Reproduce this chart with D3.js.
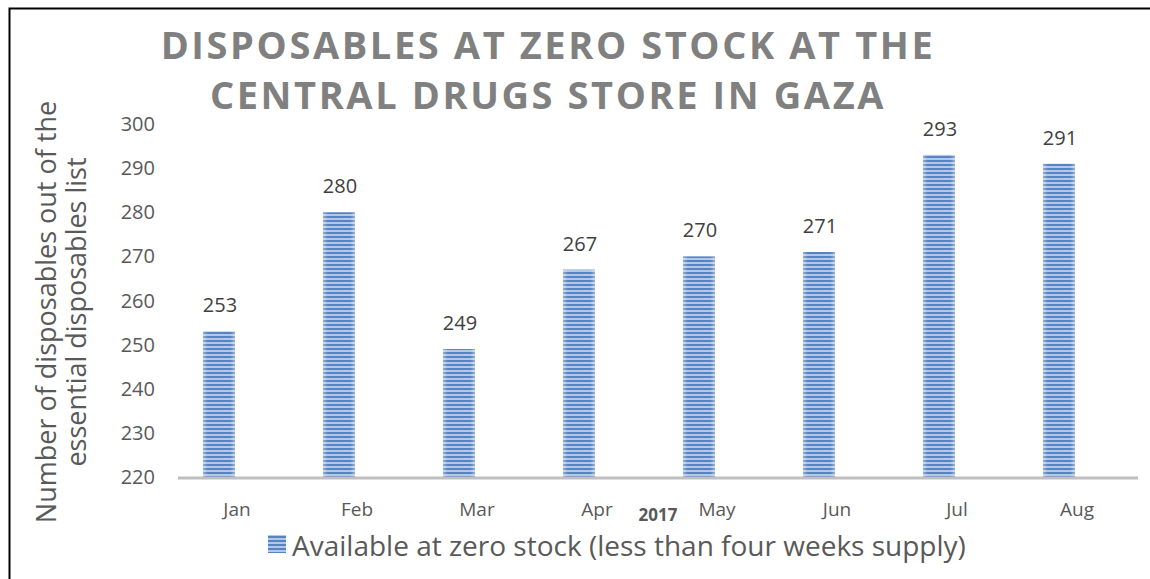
<!DOCTYPE html>
<html>
<head>
<meta charset="utf-8">
<script src="https://cdn.jsdelivr.net/npm/d3@7"></script>
<style>
  body { margin: 0; background: #fff; }
  svg text { font-family: "Open Sans", sans-serif; }
</style>
</head>
<body>
<div id="chart"></div>
<script>
// data
var months = ["Jan", "Feb", "Mar", "Apr", "May", "Jun", "Jul", "Aug"]
var values = [253, 280, 249, 267, 270, 271, 293, 291]
var yTicks = [220, 230, 240, 250, 260, 270, 280, 290, 300]
var titleLines = ["DISPOSABLES AT ZERO STOCK AT THE", "CENTRAL DRUGS STORE IN GAZA"]
var yTitleLines = ["Number of disposables out of the", "essential disposables list"]
var seriesName = "Available at zero stock (less than four weeks supply)"

var w = 1150
var h = 579

var svg = d3.select("#chart")
    .append("svg")
    .attr("width", w)
    .attr("height", h)

// stripes for the bars
var defs = svg.append("defs")
var pat = defs.append("pattern")
    .attr("id", "stripes")
    .attr("patternUnits", "userSpaceOnUse")
    .attr("width", 8)
    .attr("height", 4)
pat.append("rect").attr("width", 8).attr("height", 4).attr("fill", "#b3c8e6")
pat.append("rect").attr("width", 8).attr("height", 2).attr("fill", "#5683c3")

var edge = defs.append("linearGradient").attr("id", "edge")
edge.append("stop").attr("offset", "0%").attr("stop-color", "#fff").attr("stop-opacity", 0.35)
edge.append("stop").attr("offset", "15%").attr("stop-color", "#fff").attr("stop-opacity", 0)
edge.append("stop").attr("offset", "85%").attr("stop-color", "#fff").attr("stop-opacity", 0)
edge.append("stop").attr("offset", "100%").attr("stop-color", "#fff").attr("stop-opacity", 0.35)

// frame
svg.append("path")
    .attr("d", "M9.5," + h + "V8.5H" + w)
    .attr("fill", "none")
    .attr("stroke", "#000")
    .attr("stroke-width", 2)

var x = d3.scaleBand()
    .domain(months)
    .range([178, 1138])

var y = d3.scaleLinear()
    .domain([220, 300])
    .range([477, 124])

// y tick labels
svg.selectAll(".ytick")
    .data(yTicks)
    .enter().append("text")
    .attr("x", 155)
    .attr("y", d => y(d))
    .attr("dy", "0.35em")
    .attr("text-anchor", "end")
    .attr("font-size", 20)
    .attr("fill", "#595959")
    .text(d => d)

// bars
var barW = 32
var barX = d => x(d) + 25

svg.selectAll(".bar")
    .data(values)
    .enter().append("rect")
    .attr("x", (d, i) => barX(months[i]))
    .attr("y", d => y(d))
    .attr("width", barW)
    .attr("height", d => y(220) - y(d))
    .attr("fill", "url(#stripes)")

svg.selectAll(".bar-edge")
    .data(values)
    .enter().append("rect")
    .attr("x", (d, i) => barX(months[i]))
    .attr("y", d => y(d))
    .attr("width", barW)
    .attr("height", d => y(220) - y(d))
    .attr("fill", "url(#edge)")

// value labels
svg.selectAll(".val")
    .data(values)
    .enter().append("text")
    .attr("x", (d, i) => barX(months[i]) + barW / 2 + 1)
    .attr("y", d => y(d) - 19)
    .attr("text-anchor", "middle")
    .attr("font-size", 20)
    .attr("fill", "#404040")
    .text(d => d)

// x axis line
svg.append("line")
    .attr("x1", 178)
    .attr("x2", 1138)
    .attr("y1", y(220) + 1)
    .attr("y2", y(220) + 1)
    .attr("stroke", "#bfbfbf")
    .attr("stroke-width", 3)

// x labels
svg.selectAll(".xlab")
    .data(months)
    .enter().append("text")
    .attr("x", d => x(d) + x.bandwidth() / 2 - 1)
    .attr("y", 516)
    .attr("text-anchor", "middle")
    .attr("font-size", 19)
    .attr("fill", "#595959")
    .text(d => d)

svg.append("text")
    .attr("x", 658)
    .attr("y", 521)
    .attr("text-anchor", "middle")
    .attr("font-size", 17)
    .attr("font-weight", "bold")
    .attr("fill", "#595959")
    .text("2017")

// title
svg.selectAll(".title")
    .data(titleLines)
    .enter().append("text")
    .attr("x", 548)
    .attr("y", (d, i) => 59 + i * 50)
    .attr("text-anchor", "middle")
    .attr("font-size", 38)
    .attr("font-weight", "bold")
    .attr("letter-spacing", 2.6)
    .attr("fill", "#808080")
    .text(d => d)

// y axis title
svg.selectAll(".ytitle")
    .data(yTitleLines)
    .enter().append("text")
    .attr("transform", (d, i) => "translate(" + (56 + i * 30) + ",312) rotate(-90)")
    .attr("text-anchor", "middle")
    .attr("font-size", 27)
    .attr("fill", "#595959")
    .text(d => d)

// legend
svg.append("rect")
    .attr("x", 268)
    .attr("y", 535)
    .attr("width", 18)
    .attr("height", 18)
    .attr("fill", "url(#stripes)")

svg.append("text")
    .attr("x", 292)
    .attr("y", 556)
    .attr("font-size", 28)
    .attr("fill", "#595959")
    .text(seriesName)
</script>
</body>
</html>
